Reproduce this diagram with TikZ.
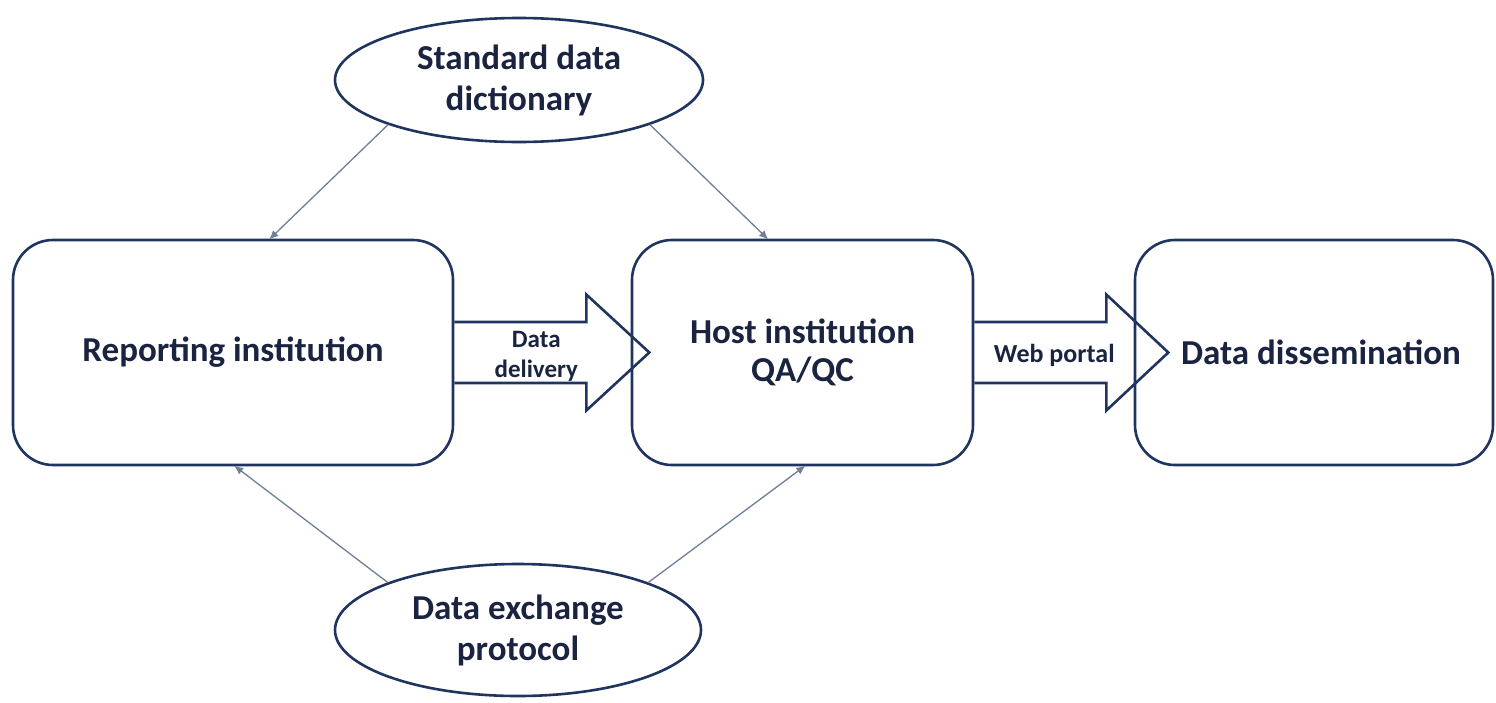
\documentclass[tikz,border=0pt]{standalone}
\usepackage{fontspec}
\setmainfont{Carlito}
\usetikzlibrary{calc,arrows.meta,shapes.geometric}
\definecolor{navy}{HTML}{1F3560}
\definecolor{txt}{HTML}{1A2440}
\definecolor{thin}{HTML}{6F7F99}
\tikzset{
  box/.style={draw=navy, line width=2.6pt, rounded corners=40pt, align=center, text=txt,
    font=\bfseries\fontsize{35}{38}\selectfont, inner sep=0pt},
  oval/.style={draw=navy, line width=2.6pt, ellipse, align=center, text=txt,
    font=\bfseries\fontsize{35}{41}\selectfont, inner sep=0pt},
  blk/.style={draw=navy, line width=2.6pt, line join=miter},
  lbl/.style={text=txt, align=center, inner sep=0pt},
  conn/.style={draw=thin, line width=1.3pt, -{Latex[length=9pt,width=8pt]}, shorten >=-1pt},
}
\begin{document}
\begin{tikzpicture}[x=1pt,y=-1pt]
\useasboundingbox[fill=white] (0,0) rectangle (1496,702);
\node[box, minimum width=440pt, minimum height=225pt] (r1) at (233,352.5) {Reporting institution};
\node[box, minimum width=341pt, minimum height=225pt] (h) at (802.5,352.5) {Host institution\\QA/QC};
\node[box, minimum width=358pt, minimum height=225pt] (d) at (1314,352.5) {\hspace*{14pt}Data dissemination};
\node[oval, minimum width=368pt, minimum height=124pt] (sd) at (519,80) {Standard data\\dictionary};
\node[oval, minimum width=366pt, minimum height=132pt] (dp) at (518,630) {Data exchange\\protocol};
% block arrows
\draw[blk] ($(r1.east)+(0,-30.5)$) -- ($(r1.east)+(132,-30.5)$) -- ($(r1.east)+(132,-58)$)
  -- ($(r1.east)+(195,0)$) -- ($(r1.east)+(132,58)$) -- ($(r1.east)+(132,30.5)$) -- ($(r1.east)+(0,30.5)$);
\node[lbl, font=\bfseries\fontsize{25}{30}\selectfont] (l1) at ($(r1.east)+(82,4)$) {Data\\delivery};
\draw[blk] ($(h.east)+(0,-30.5)$) -- ($(h.east)+(132,-30.5)$) -- ($(h.east)+(132,-58)$)
  -- ($(h.east)+(194,0)$) -- ($(h.east)+(132,58)$) -- ($(h.east)+(132,30.5)$) -- ($(h.east)+(0,30.5)$);
\node[lbl, font=\bfseries\fontsize{26}{30}\selectfont] (l2) at ($(h.east)+(80,3)$) {Web portal};
% thin connectors
\draw[conn] (sd.south west) -- ($(r1.north)+(37,0)$);
\draw[conn] (sd.south east) -- ($(h.north)+(-35,0)$);
\draw[conn] (dp.north west) -- ($(r1.south)+(2,0)$);
\draw[conn] (dp.north east) -- ($(h.south)+(2,0)$);
\end{tikzpicture}
\end{document}
